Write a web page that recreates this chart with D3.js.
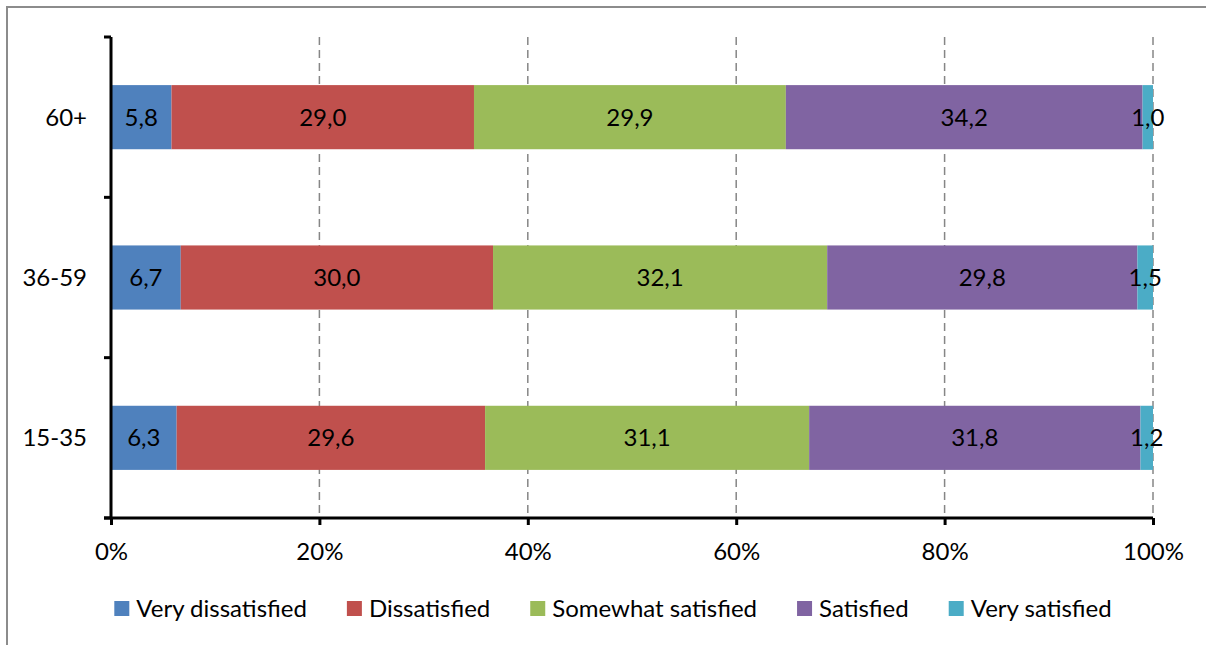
<!DOCTYPE html>
<html>
<head>
<meta charset="utf-8">
<script src="https://cdn.jsdelivr.net/npm/d3@7"></script>
<style>
  html, body { margin: 0; padding: 0; background: #fff; }
  svg { display: block; }
  text { font-family: Lato, "Open Sans", sans-serif; fill: #000; }
</style>
</head>
<body>
<svg id="chart" width="1206" height="645"></svg>
<script>
// Age groups, top to bottom
const ageGroups = ["60+", "36-59", "15-35"];

// Satisfaction levels (stack order, left to right)
const levels = ["Very dissatisfied", "Dissatisfied", "Somewhat satisfied", "Satisfied", "Very satisfied"];
const levelColors = ["#4F81BD", "#C0504D", "#9BBB59", "#8064A2", "#4BACC6"];

// Shares (%) per age group, in the order of `levels`
const veryDissatisfied   = [5.8, 6.7, 6.3];
const dissatisfied       = [29.0, 30.0, 29.6];
const somewhatSatisfied  = [29.9, 32.1, 31.1];
const satisfied          = [34.2, 29.8, 31.8];
const verySatisfied      = [1.0, 1.5, 1.2];

const xTicks = [0, 0.2, 0.4, 0.6, 0.8, 1.0];

const rows = ageGroups.map((g, i) => ({
  group: g,
  "Very dissatisfied": veryDissatisfied[i],
  "Dissatisfied": dissatisfied[i],
  "Somewhat satisfied": somewhatSatisfied[i],
  "Satisfied": satisfied[i],
  "Very satisfied": verySatisfied[i]
}));

const svg = d3.select("#chart");
const W = 1206, H = 645;
const plot = { left: 111, right: 1153, top: 37, bottom: 518 };
const FONT = 24;

// outer frame
svg.append("rect")
  .attr("x", 7).attr("y", 7)
  .attr("width", W + 20).attr("height", H + 20)
  .attr("fill", "none").attr("stroke", "#8c8c8c").attr("stroke-width", 2);

const x = d3.scaleLinear().domain([0, 1]).range([plot.left, plot.right]);
const y = d3.scaleBand().domain(ageGroups).range([plot.top, plot.bottom])
  .paddingInner(0.6).paddingOuter(0.3);
const color = d3.scaleOrdinal().domain(levels).range(levelColors);

// 100% stacked layout
const series = d3.stack().keys(levels).offset(d3.stackOffsetExpand)(rows);

// vertical dashed gridlines
svg.append("g").selectAll("line")
  .data(xTicks.filter(t => t > 0))
  .join("line")
  .attr("x1", d => x(d)).attr("x2", d => x(d))
  .attr("y1", plot.top).attr("y2", plot.bottom)
  .attr("stroke", "#868686").attr("stroke-width", 1.5)
  .attr("stroke-dasharray", "8,5");

// bars
const layer = svg.append("g").selectAll("g")
  .data(series)
  .join("g")
  .attr("fill", d => color(d.key));

layer.selectAll("rect")
  .data(d => d)
  .join("rect")
  .attr("x", d => x(d[0]))
  .attr("y", d => y(d.data.group))
  .attr("width", d => x(d[1]) - x(d[0]))
  .attr("height", y.bandwidth());

// value labels
const fmt = v => v.toFixed(1).replace(".", ",");
svg.append("g").selectAll("g")
  .data(series)
  .join("g")
  .selectAll("text")
  .data(d => d.map(s => ({ s, key: d.key })))
  .join("text")
  .attr("x", d => (x(d.s[0]) + x(d.s[1])) / 2)
  .attr("y", d => y(d.s.data.group) + y.bandwidth() / 2)
  .attr("dy", "0.35em")
  .attr("text-anchor", "middle")
  .attr("font-size", FONT)
  .text(d => fmt(d.s.data[d.key]));

// x axis
const xAxis = svg.append("g")
  .attr("transform", `translate(0,${plot.bottom})`)
  .call(d3.axisBottom(x).tickValues(xTicks).tickFormat(d3.format(".0%")).tickSize(7).tickSizeOuter(0));
xAxis.select(".domain").attr("stroke", "#000").attr("stroke-width", 3)
  .attr("d", `M${plot.left - 7},0H${plot.right}`);
xAxis.selectAll(".tick line").attr("stroke", "#000").attr("stroke-width", 3);
xAxis.selectAll(".tick text")
  .attr("font-size", FONT).attr("font-family", "Lato, sans-serif")
  .attr("fill", "#000").attr("y", 25).attr("dy", "0.71em");

// y axis: line plus ticks at band boundaries
const yAxis = svg.append("g");
yAxis.append("line")
  .attr("x1", plot.left).attr("x2", plot.left)
  .attr("y1", plot.top).attr("y2", plot.bottom)
  .attr("stroke", "#000").attr("stroke-width", 3);
const boundaries = d3.range(ageGroups.length + 1).map(i => plot.top + i * y.step());
yAxis.selectAll(".ytick")
  .data(boundaries)
  .join("line")
  .attr("x1", plot.left - 7).attr("x2", plot.left)
  .attr("y1", d => d).attr("y2", d => d)
  .attr("stroke", "#000").attr("stroke-width", 3);
yAxis.selectAll(".ylabel")
  .data(ageGroups)
  .join("text")
  .attr("x", 87)
  .attr("y", d => y(d) + y.bandwidth() / 2)
  .attr("dy", "0.35em")
  .attr("text-anchor", "end")
  .attr("font-size", FONT)
  .text(d => d);

// legend
const legend = svg.append("g");
const items = legend.selectAll("g").data(levels).join("g");
items.append("rect")
  .attr("width", 15).attr("height", 15)
  .attr("y", -16)
  .attr("fill", d => color(d));
items.append("text")
  .attr("x", 22).attr("y", 0)
  .attr("font-size", FONT)
  .text(d => d);
let cx = 0;
items.each(function () {
  const g = d3.select(this);
  const tw = g.select("text").node().getComputedTextLength();
  g.attr("transform", `translate(${cx},617)`);
  cx += 22 + tw + 40;
});
const totalW = cx - 40;
legend.attr("transform", `translate(${613 - totalW / 2},0)`);
</script>
</body>
</html>
